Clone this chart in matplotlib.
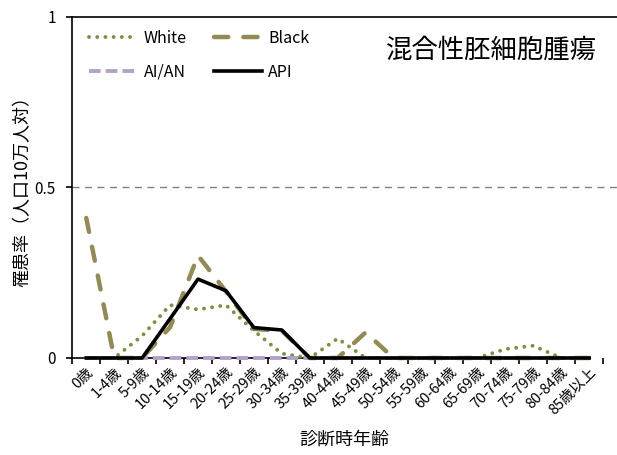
import matplotlib
matplotlib.use("Agg")
import matplotlib.pyplot as plt
import numpy as np

plt.rcParams['font.family'] = ['Noto Sans CJK JP', 'DejaVu Sans']

# age groups (last slot is an empty category in the source sheet)
ages = ['0歳', '1-4歳', '5-9歳', '10-14歳', '15-19歳', '20-24歳', '25-29歳',
        '30-34歳', '35-39歳', '40-44歳', '45-49歳', '50-54歳', '55-59歳',
        '60-64歳', '65-69歳', '70-74歳', '75-79歳', '80-84歳', '85歳以上', '']

# incidence per 100k
white = [0, 0, 0.065, 0.155, 0.142, 0.155, 0.08, 0.013, 0, 0.057,
         0, 0, 0, 0, 0, 0.026, 0.036, 0, 0, 0]
black = [0.41, 0, 0, 0.09, 0.30, 0.195, 0.085, 0.08, 0, 0,
         0.075, 0, 0, 0, 0, 0, 0, 0, 0, 0]
aian = [0, 0, 0, 0, 0, 0, 0, 0, 0, 0,
        0, 0, 0, 0, 0, 0, 0, 0, 0, 0]
api = [0, 0, 0, 0.115, 0.231, 0.197, 0.089, 0.082, 0, 0,
       0, 0, 0, 0, 0, 0, 0, 0, 0, 0]

title = '混合性胚細胞腫瘍'

fig = plt.figure(figsize=(6.17, 4.55), dpi=100)
ax = fig.add_axes([72.3 / 617, 1 - 358 / 455, 1 - 72.3 / 617, (358 - 16.5) / 455])

x = np.arange(len(ages))
n = len(ages) - 1  # drawn points (empty last slot is off the axis)

l_black, = ax.plot(x[:n], black[:n], color='#948A54', lw=3.2, ls=(0, (3.2, 3.4)),
                   dash_capstyle='round', label='Black', zorder=3, clip_on=False)
l_white, = ax.plot(x[:n], white[:n], color='#77933C', lw=2.8, ls=(0, (0.01, 2.1)),
                   dash_capstyle='round', label='White', zorder=4, clip_on=False)
l_aian, = ax.plot(x[:n], aian[:n], color='#B3A2C7', lw=2.8, ls=(0, (3, 1.3)),
                  label='AI/AN', zorder=5, clip_on=False)
l_api, = ax.plot(x[:n], api[:n], color='black', lw=2.6, label='API', zorder=6,
                 clip_on=False)

ax.axhline(0.5, color='#808080', lw=1, ls=(0, (5, 4)), zorder=1)

px = 28.88
ax.set_xlim(-0.5, (617 - 72.3) / px - 0.5)
ax.set_ylim(0, 1)

ax.spines['right'].set_visible(False)
for s in ['left', 'bottom', 'top']:
    ax.spines[s].set_linewidth(1.2)
ax.spines['bottom'].set_bounds(-0.5, (608 - 72.3) / px - 0.5)

ax.set_xticks(np.arange(len(ages)) - 0.5)
ax.set_xticklabels([])
ax.set_xticks(x, minor=True)
ax.set_xticklabels(ages, minor=True, rotation=45, ha='right', va='top',
                   rotation_mode='anchor', fontsize=10.5)
ax.tick_params(axis='x', which='major', direction='out', length=4, width=1.2)
ax.tick_params(axis='x', which='minor', length=0, pad=5)

ax.set_yticks([0, 0.5, 1])
ax.set_yticklabels(['0', '0.5', '1'], fontsize=11)
ax.tick_params(axis='y', direction='out', length=4, width=1.2, pad=8)

ax.set_ylabel('罹患率（人口10万人対）', fontsize=13, labelpad=2)
ax.set_xlabel('診断時年齢', fontsize=13, labelpad=9.5)

ax.text(0.963, 0.902, title, transform=ax.transAxes, ha='right', va='center',
        fontsize=19)

ax.legend([l_white, l_aian, l_black, l_api], ['White', 'AI/AN', 'Black', 'API'],
          ncol=2, loc='upper left', bbox_to_anchor=(0.004, 1.003),
          frameon=False, fontsize=11.5, handlelength=3.05, handletextpad=0.37,
          columnspacing=1.7, labelspacing=1.05)

fig.savefig('out.png', dpi=100)
